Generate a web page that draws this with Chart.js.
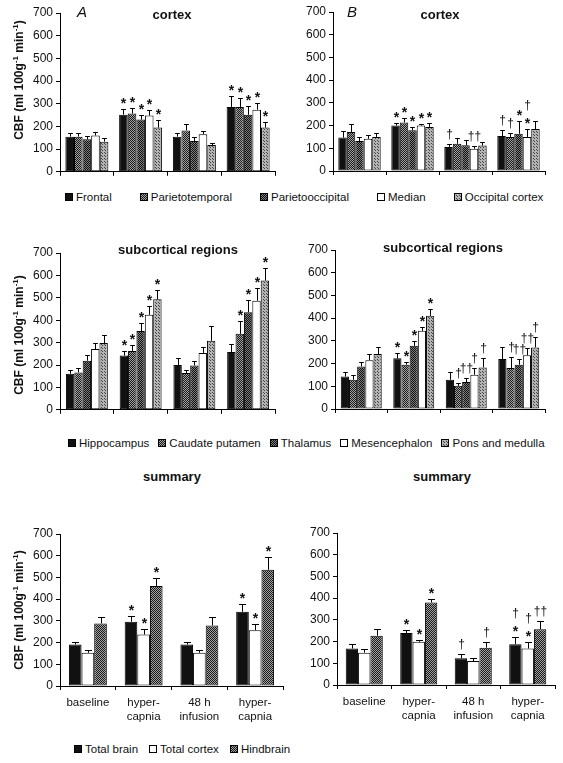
<!DOCTYPE html>
<html>
<head>
<meta charset="utf-8">
<script src="https://cdn.jsdelivr.net/npm/chart.js@4"></script>
<style>
body { margin: 0; background: #fff; font-family: "Liberation Sans", Arial, sans-serif; color: #111; }
#fig { position: relative; width: 563px; height: 763px; overflow: hidden; }
canvas.panel { position: absolute; }
.txt { position: absolute; white-space: nowrap; }
.title { font-weight: bold; font-size: 13px; transform: translate(-50%, -50%); }
.letter { font-style: italic; font-size: 15px; }
.ylab { font-weight: bold; font-size: 12px; transform: translate(-50%, -50%) rotate(-90deg); }
.ylab sup { font-size: 8px; }
.legend { position: absolute; display: flex; align-items: center; font-size: 11.5px; transform: translateY(-50%); }
.legend span { display: flex; align-items: center; }
.legend canvas { margin-right: 3px; }
</style>
</head>
<body>
<div id="fig">
  <canvas class="panel" id="cortexA" width="285" height="182" style="left:0;top:0"></canvas>
  <canvas class="panel" id="cortexB" width="278" height="182" style="left:285px;top:0"></canvas>
  <canvas class="panel" id="subA" width="285" height="195" style="left:0;top:225px"></canvas>
  <canvas class="panel" id="subB" width="278" height="195" style="left:285px;top:225px"></canvas>
  <canvas class="panel" id="sumA" width="290" height="210" style="left:0;top:520px"></canvas>
  <canvas class="panel" id="sumB" width="278" height="210" style="left:285px;top:520px"></canvas>

  <div class="txt letter" style="left:77px;top:3px">A</div>
  <div class="txt letter" style="left:347px;top:3px">B</div>
  <div class="txt title" style="left:172px;top:14px">cortex</div>
  <div class="txt title" style="left:440px;top:14px">cortex</div>
  <div class="txt title" style="left:178px;top:249px">subcortical regions</div>
  <div class="txt title" style="left:443px;top:247px">subcortical regions</div>
  <div class="txt title" style="left:172px;top:476px">summary</div>
  <div class="txt title" style="left:442px;top:476px">summary</div>

  <div class="txt ylab" style="left:18px;top:80px">CBF (ml 100g<sup>-1</sup> min<sup>-1</sup>)</div>
  <div class="txt ylab" style="left:18px;top:335px">CBF (ml 100g<sup>-1</sup> min<sup>-1</sup>)</div>
  <div class="txt ylab" style="left:18px;top:610px">CBF (ml 100g<sup>-1</sup> min<sup>-1</sup>)</div>

  <div class="legend" id="legend1" style="left:65px;top:197px;gap:28px"></div>
  <div class="legend" id="legend2" style="left:68px;top:443px;gap:9px"></div>
  <div class="legend" id="legend3" style="left:74px;top:749px;gap:11px"></div>
</div>
<script>
const plainGroups = ['', '', '', ''];
const summaryGroups = [['baseline'], ['hyper-', 'capnia'], ['48 h', 'infusion'], ['hyper-', 'capnia']];

const cortexNames = ['Frontal', 'Parietotemporal', 'Parietooccipital', 'Median', 'Occipital cortex'];
const subNames = ['Hippocampus', 'Caudate putamen', 'Thalamus', 'Mesencephalon', 'Pons and medulla'];
const summaryNames = ['Total brain', 'Total cortex', 'Hindbrain'];

// one row per region, one value per condition (baseline, hypercapnia, 48 h infusion, hypercapnia)
const cortexA = [[155, 252, 155, 286], [155, 257, 182, 286], [143, 230, 136, 251], [160, 248, 166, 274], [133, 195, 118, 195]];
const cortexA_sem = [[14, 25, 14, 46], [14, 26, 29, 39], [14, 22, 19, 41], [16, 23, 16, 29], [16, 35, 10, 24]];
const cortexA_marks = [['', '*', '', '*'], ['', '*', '', '*'], ['', '*', '', '*'], ['', '*', '', '*'], ['', '*', '', '*']];

const cortexB = [[147, 200, 106, 154], [172, 214, 120, 150], [132, 179, 113, 164], [142, 200, 98, 150], [150, 194, 112, 185]];
const cortexB_sem = [[28, 13, 14, 28], [33, 21, 24, 19], [18, 15, 22, 55], [18, 8, 12, 36], [17, 17, 17, 34]];
const cortexB_marks = [['', '*', '†', '†'], ['', '*', '', '†'], ['', '*', '', '*'], ['', '*', '††', '†|*'], ['', '*', '', '']];

const subA = [[161, 242, 200, 258], [167, 263, 164, 339], [219, 352, 198, 436], [271, 424, 254, 487], [298, 493, 308, 577]];
const subA_sem = [[18, 21, 30, 36], [19, 25, 15, 59], [26, 37, 21, 54], [27, 41, 25, 55], [35, 41, 65, 57]];
const subA_marks = [['', '*', '', ''], ['', '*', '', '*'], ['', '*', '', '*'], ['', '*', '', '*'], ['', '*', '', '*']];

const subB = [[143, 223, 129, 220], [129, 195, 102, 180], [187, 278, 119, 195], [215, 344, 151, 237], [242, 410, 183, 271]];
const subB_sem = [[21, 24, 32, 52], [19, 14, 12, 47], [21, 22, 17, 25], [28, 15, 29, 31], [30, 29, 41, 48]];
const subB_marks = [['', '*', '', ''], ['', '*', '†', '†'], ['', '*', '††', '††'], ['', '*', '†', '††'], ['', '*', '†', '†']];

const sumA = [[191, 296, 191, 342], [153, 237, 153, 257], [288, 461, 279, 535]];
const sumA_sem = [[13, 26, 13, 36], [12, 25, 15, 28], [31, 35, 40, 57]];
const sumA_marks = [['', '*', '', '*'], ['', '*', '', '*'], ['', '*', '', '*']];

const sumB = [[168, 239, 123, 188], [149, 199, 110, 168], [227, 380, 172, 257]];
const sumB_sem = [[19, 14, 19, 34], [19, 8, 16, 28], [29, 18, 24, 40]];
const sumB_marks = [['', '*', '†', '†|*'], ['', '*', '', '†|*'], ['', '*', '†', '††']];

const FONT = '"Liberation Sans", Arial, sans-serif';

function pattern(rows, colors) {
    const c = document.createElement('canvas');
    c.width = rows[0].length;
    c.height = rows.length;
    const g = c.getContext('2d');
    rows.forEach((r, y) => [...r].forEach((ch, x) => {
        g.fillStyle = colors[ch];
        g.fillRect(x, y, 1, 1);
    }));
    return g.createPattern(c, 'repeat');
}

const black = '#111';
const white = '#fff';
const checkMid = pattern(['01', '10'], { 0: '#1a1a1a', 1: '#a2a2a2' });
const checkDark = pattern(['01', '10'], { 0: '#111', 1: '#7c7c7c' });
const gridLight = pattern(['011', '111', '110'], { 0: '#444', 1: '#b4b4b4' });

const cortexFills = [black, checkMid, checkDark, white, gridLight];
const subFills = [black, checkMid, checkDark, white, gridLight];
const summaryFills = [black, white, checkMid];

// error bars and significance marks
const errorBars = {
    id: 'errorBars',
    afterDatasetsDraw(chart) {
        const ctx = chart.ctx;
        const y = chart.scales.y;
        chart.data.datasets.forEach((ds, i) => {
            chart.getDatasetMeta(i).data.forEach((bar, j) => {
                const top = Math.round(y.getPixelForValue(ds.data[j] + ds.sem[j])) + 0.5;
                const x = Math.round(bar.x) + 0.5;
                const half = bar.width * 0.28;
                ctx.save();
                ctx.strokeStyle = '#000';
                ctx.lineWidth = 1;
                ctx.beginPath();
                ctx.moveTo(x, bar.y);
                ctx.lineTo(x, top);
                ctx.moveTo(x - half, top);
                ctx.lineTo(x + half, top);
                ctx.stroke();

                const mark = ds.marks[j];
                if (mark) {
                    ctx.fillStyle = '#111';
                    ctx.textAlign = 'center';
                    ctx.textBaseline = 'alphabetic';
                    let base = top - 5;
                    mark.split('|').reverse().forEach(line => {
                        if (line.includes('*')) {
                            ctx.font = 'bold 14px ' + FONT;
                            ctx.fillText(line, x, base + 3);
                        } else {
                            ctx.font = '12px ' + FONT;
                            ctx.fillText(line, x, base - 2);
                        }
                        base -= 14;
                    });
                }
                ctx.restore();
            });
        });
    }
};

function makeChart(id, labels, names, values, sems, marks, fills, box) {
    return new Chart(document.getElementById(id), {
        type: 'bar',
        data: {
            labels: labels,
            datasets: names.map((n, i) => ({
                label: n,
                data: values[i],
                sem: sems[i],
                marks: marks[i],
                backgroundColor: fills[i],
                borderColor: '#000',
                borderWidth: 1,
                borderSkipped: false,
                categoryPercentage: box.cat,
                barPercentage: 1
            }))
        },
        options: {
            responsive: false,
            animation: false,
            layout: { padding: { left: 0, right: box.padR, top: box.padT, bottom: 0 } },
            plugins: { legend: { display: false }, tooltip: { enabled: false } },
            scales: {
                x: {
                    grid: { display: true, drawOnChartArea: false, offset: true, tickLength: 4, color: '#000' },
                    border: { color: '#000' },
                    ticks: { color: '#111', font: { family: FONT, size: 11.5 }, padding: 6, maxRotation: 0, autoSkip: false },
                    afterFit: s => { s.height = box.xH; }
                },
                y: {
                    min: 0,
                    max: 700,
                    grid: { drawOnChartArea: false, tickLength: 4, color: '#000' },
                    border: { color: '#000' },
                    ticks: { stepSize: 100, color: '#111', font: { family: FONT, size: 12 }, padding: 3 },
                    afterFit: s => { s.width = box.yW; }
                }
            }
        },
        plugins: [errorBars]
    });
}

makeChart('cortexA', plainGroups, cortexNames, cortexA, cortexA_sem, cortexA_marks, cortexFills, { yW: 60, padR: 10, padT: 13, xH: 9, cat: 0.8 });
makeChart('cortexB', plainGroups, cortexNames, cortexB, cortexB_sem, cortexB_marks, cortexFills, { yW: 48, padR: 18, padT: 12, xH: 11, cat: 0.8 });
makeChart('subA', plainGroups, subNames, subA, subA_sem, subA_marks, subFills, { yW: 60, padR: 10, padT: 28, xH: 8, cat: 0.78 });
makeChart('subB', plainGroups, subNames, subB, subB_sem, subB_marks, subFills, { yW: 50, padR: 18, padT: 25, xH: 11, cat: 0.78 });
makeChart('sumA', summaryGroups, summaryNames, sumA, sumA_sem, sumA_marks, summaryFills, { yW: 60, padR: 7, padT: 14, xH: 44, cat: 0.68 });
makeChart('sumB', summaryGroups, summaryNames, sumB, sumB_sem, sumB_marks, summaryFills, { yW: 52, padR: 8, padT: 13, xH: 45, cat: 0.68 });

function buildLegend(id, names, fills) {
    const el = document.getElementById(id);
    names.forEach((n, i) => {
        const item = document.createElement('span');
        const sw = document.createElement('canvas');
        sw.width = 8;
        sw.height = 8;
        const g = sw.getContext('2d');
        g.fillStyle = fills[i];
        g.fillRect(0, 0, 8, 8);
        g.strokeStyle = '#000';
        g.strokeRect(0.5, 0.5, 7, 7);
        item.appendChild(sw);
        item.appendChild(document.createTextNode(n));
        el.appendChild(item);
    });
}

buildLegend('legend1', cortexNames, cortexFills);
buildLegend('legend2', subNames, subFills);
buildLegend('legend3', summaryNames, summaryFills);
</script>
</body>
</html>
